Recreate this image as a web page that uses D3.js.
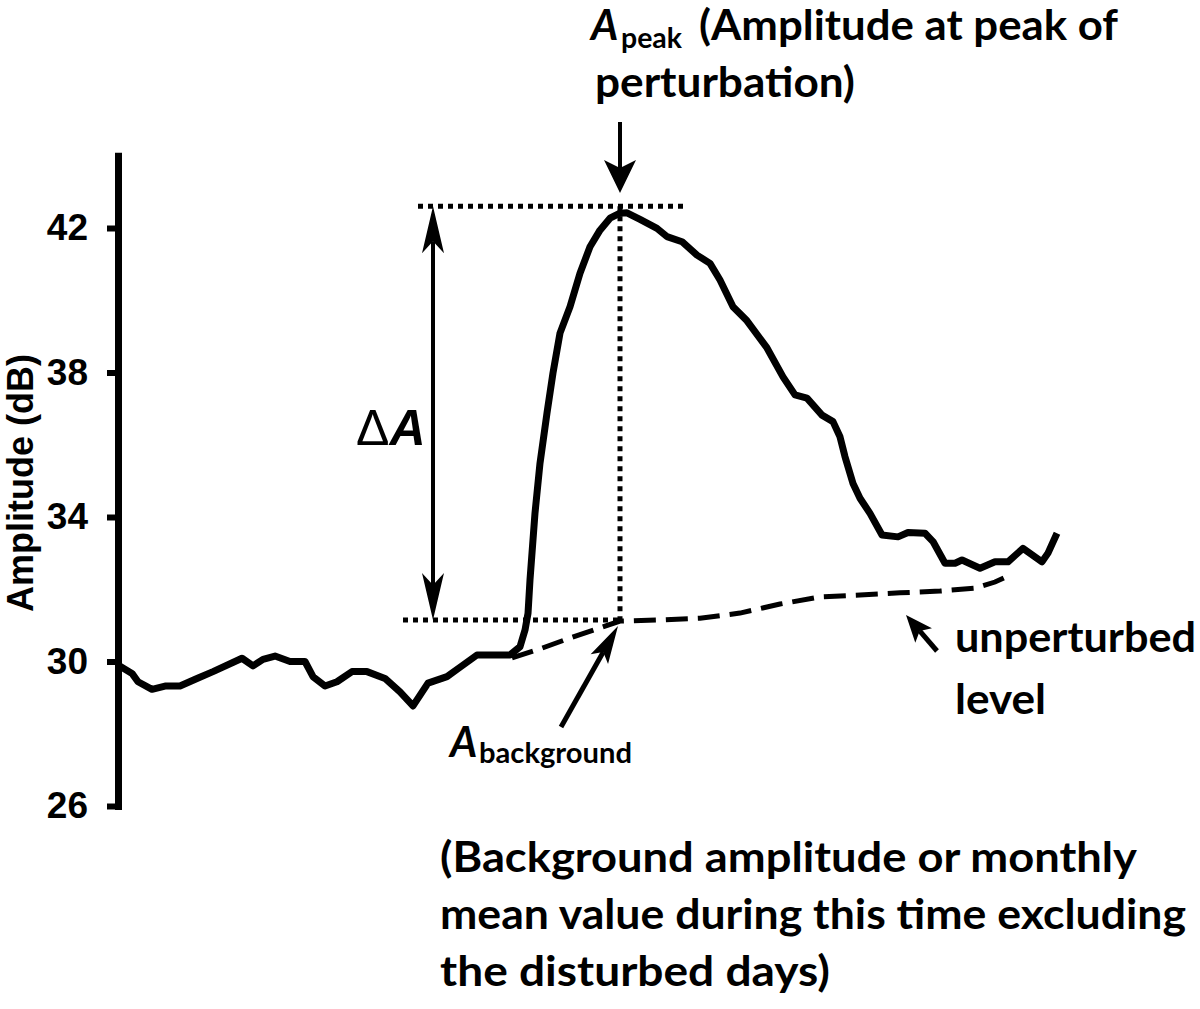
<!DOCTYPE html>
<html>
<head>
<meta charset="utf-8">
<script src="https://cdn.jsdelivr.net/npm/d3@7"></script>
<style>
body { margin: 0; background: #fff; }
</style>
</head>
<body>
<div id="chart"></div>
<script>
// amplitude record (x in days, y in dB)
var days = [0.0, 1.4, 2.0, 3.4, 4.7, 6.2, 7.9, 9.5, 12.4, 13.5, 14.5, 15.7, 17.2, 18.7, 19.5, 20.7, 21.9, 23.4, 24.9, 26.7,
    28.2, 29.5, 31.0, 32.9, 34.2, 35.9, 39.2, 40.2, 40.7, 41.0, 41.2, 41.7, 42.2, 42.9, 43.5, 44.2, 45.2, 46.2, 47.2, 48.2,
    49.2, 50.2, 50.9, 52.2, 53.9, 54.9, 56.4, 57.9, 59.2, 60.2, 61.5, 62.9, 64.9, 66.5, 67.7, 68.9, 70.4, 71.5, 72.2, 72.7,
    73.5, 74.2, 75.2, 76.4, 78.0, 79.0, 80.7, 81.5, 82.7, 83.7, 84.4, 86.2, 87.7, 89.0, 90.5, 92.4, 93.0, 93.9]
var amplitude = [29.90, 29.67, 29.44, 29.23, 29.32, 29.32, 29.53, 29.72, 30.09, 29.88, 30.06, 30.15, 30.00, 30.00, 29.58, 29.32, 29.44, 29.72, 29.72, 29.53,
    29.16, 28.77, 29.40, 29.58, 29.84, 30.18, 30.18, 30.41, 30.87, 31.33, 32.26, 34.11, 35.49, 36.88, 37.99, 39.09, 39.82, 40.75, 41.48, 41.94,
    42.27, 42.41, 42.42, 42.24, 41.99, 41.76, 41.62, 41.25, 41.02, 40.56, 39.82, 39.43, 38.68, 37.88, 37.38, 37.29, 36.82, 36.64, 36.22, 35.67,
    34.93, 34.52, 34.10, 33.50, 33.45, 33.57, 33.55, 33.32, 32.72, 32.72, 32.81, 32.58, 32.76, 32.76, 33.13, 32.76, 33.00, 33.55]

// unperturbed level (background)
var bgDays = [39.4, 42.2, 45.2, 48.2, 50.2, 54.2, 58.2, 62.2, 66.2, 70.2, 74.2, 78.2, 82.2, 85.7, 87.7, 89.0]
var bgAmplitude = [30.10, 30.35, 30.65, 30.93, 31.12, 31.15, 31.20, 31.34, 31.59, 31.79, 31.84, 31.90, 31.95, 32.03, 32.20, 32.37]

var yTicks = [26, 30, 34, 38, 42]

// reference markers
var peakDay = 50.2, peakAmp = 42.6, bgAmp = 31.15
var topGuide = [30.0, 56.5]      // day range of the peak guide
var bottomGuide = [28.5, 50.2]   // day range of the background guide
var deltaDay = 31.5

var width = 1200, height = 1009
var svg = d3.select("#chart").append("svg")
    .attr("width", width).attr("height", height)
    .style("font-family", "Lato, 'Liberation Sans', sans-serif")

var xScale = d3.scaleLinear().domain([0, 94]).range([118, 1058])
var yScale = d3.scaleLinear().domain([26, 44]).range([806, 806 - 18 * 36.125])

// axis
var yAxis = d3.axisLeft(yScale).tickValues(yTicks).tickSizeInner(11).tickSizeOuter(0).tickPadding(19)
var axisG = svg.append("g").attr("transform", "translate(118,0)").call(yAxis)
axisG.select(".domain").attr("stroke-width", 7).attr("stroke-linecap", "square")
axisG.selectAll(".tick line").attr("stroke-width", 6)
axisG.selectAll(".tick text")
    .attr("font-family", "'Liberation Sans', Arial, sans-serif")
    .attr("font-weight", "bold").attr("font-size", 37).attr("fill", "#000")

svg.append("text")
    .attr("transform", "translate(33,483) rotate(-90)")
    .attr("text-anchor", "middle")
    .attr("font-family", "'Liberation Sans', Arial, sans-serif")
    .attr("font-weight", "bold").attr("font-size", 36)
    .text("Amplitude (dB)")

// guides
function hline(d0, d1, v) {
    svg.append("line")
        .attr("x1", xScale(d0)).attr("x2", xScale(d1))
        .attr("y1", yScale(v)).attr("y2", yScale(v))
        .attr("stroke", "#000").attr("stroke-width", 5).attr("stroke-dasharray", "5,5")
}
hline(topGuide[0], topGuide[1], peakAmp)
hline(bottomGuide[0], bottomGuide[1], bgAmp)
svg.append("line")
    .attr("x1", xScale(peakDay)).attr("x2", xScale(peakDay))
    .attr("y1", yScale(peakAmp)).attr("y2", yScale(bgAmp))
    .attr("stroke", "#000").attr("stroke-width", 5).attr("stroke-dasharray", "5,5")

// lines
var line = d3.line()
    .x(function (d) { return xScale(d[0]) })
    .y(function (d) { return yScale(d[1]) })
    .curve(d3.curveLinear)

svg.append("path")
    .datum(bgDays.map(function (d, i) { return [d, bgAmplitude[i]] }))
    .attr("d", line).attr("fill", "none").attr("stroke", "#000")
    .attr("stroke-width", 5).attr("stroke-dasharray", "22,10")

svg.append("path")
    .datum(days.map(function (d, i) { return [d, amplitude[i]] }))
    .attr("d", line).attr("fill", "none").attr("stroke", "#000")
    .attr("stroke-width", 7).attr("stroke-linejoin", "round")

// arrows
function arrow(x0, y0, x1, y1, w, len, half, notch, both) {
    var dx = x1 - x0, dy = y1 - y0, L = Math.sqrt(dx * dx + dy * dy)
    var ux = dx / L, uy = dy / L
    var s0 = both ? len - notch : 0
    svg.append("line")
        .attr("x1", x0 + ux * s0).attr("y1", y0 + uy * s0)
        .attr("x2", x1 - ux * (len - notch)).attr("y2", y1 - uy * (len - notch))
        .attr("stroke", "#000").attr("stroke-width", w)
    head(x1, y1, ux, uy)
    if (both) head(x0, y0, -ux, -uy)

    function head(tx, ty, ux, uy) {
        var px = -uy, py = ux
        var pts = [
            [tx, ty],
            [tx - ux * len + px * half, ty - uy * len + py * half],
            [tx - ux * (len - notch), ty - uy * (len - notch)],
            [tx - ux * len - px * half, ty - uy * len - py * half]
        ]
        svg.append("path").attr("d", "M" + pts.join("L") + "Z").attr("fill", "#000")
    }
}

arrow(xScale(deltaDay), yScale(peakAmp), xScale(deltaDay), yScale(bgAmp), 4, 47, 11, 12, true)
arrow(xScale(peakDay), 122, xScale(peakDay), 193, 4, 33, 16, 8, false)
arrow(561, 727, xScale(peakDay) - 2, yScale(bgAmp) + 6, 5, 38, 10, 8, false)
arrow(937, 651, 906, 615, 5, 27, 11, 6, false)

// labels
var dA = svg.append("text").attr("x", 356).attr("y", 445)
    .attr("font-family", "'Liberation Sans', Arial, sans-serif").attr("font-size", 50)
dA.append("tspan").text("\u0394")
dA.append("tspan").attr("font-weight", "bold").attr("font-style", "italic").text("A")

function label(x, y, str, len) {
    return svg.append("text").attr("x", x).attr("y", y)
        .attr("font-weight", "bold").attr("font-size", 42)
        .attr("textLength", len).attr("lengthAdjust", "spacingAndGlyphs")
        .text(str)
}

svg.append("text").attr("x", 591).attr("y", 40)
    .attr("font-weight", "bold").attr("font-style", "italic").attr("font-size", 42).text("A")
svg.append("text").attr("x", 621).attr("y", 48)
    .attr("font-weight", "bold").attr("font-size", 28)
    .attr("textLength", 61).attr("lengthAdjust", "spacingAndGlyphs").text("peak")
label(699, 40, "(Amplitude at peak of", 419)
label(595, 97, "perturbation)", 260)

svg.append("text").attr("x", 450).attr("y", 757)
    .attr("font-weight", "bold").attr("font-style", "italic").attr("font-size", 42).text("A")
svg.append("text").attr("x", 479).attr("y", 763)
    .attr("font-weight", "bold").attr("font-size", 28)
    .attr("textLength", 153).attr("lengthAdjust", "spacingAndGlyphs").text("background")

label(955, 652, "unperturbed", 241)
label(955, 714, "level", 91)

label(440, 872, "(Background amplitude or monthly", 697)
label(440, 929, "mean value during this time excluding", 746)
label(440, 986, "the disturbed days)", 390)
</script>
</body>
</html>
